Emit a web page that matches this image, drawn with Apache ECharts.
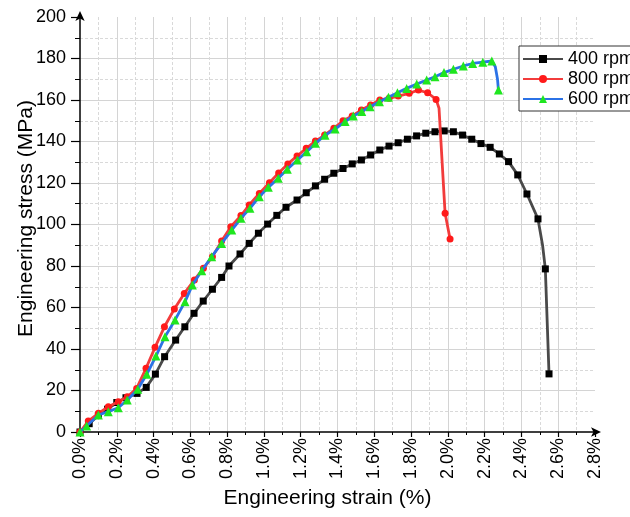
<!DOCTYPE html>
<html>
<head>
<meta charset="utf-8">
<script src="https://cdn.jsdelivr.net/npm/echarts@6/dist/echarts.min.js"></script>
<style>
html,body{margin:0;padding:0;background:#fff;}
#c{width:630px;height:517px;}
</style>
</head>
<body>
<div id="c"></div>
<script>
// Series names
var seriesNames = ['400 rpm', '800 rpm', '600 rpm'];

// 400 rpm: [strain %, stress MPa]; third element 0 = no marker
var rpm400 = [
  [0.0,0],[0.05,4],[0.1,8],[0.15,11],[0.2,14.2],[0.25,16.5],[0.31,18.6],[0.36,21.5],[0.41,27.9],[0.46,36.3],
  [0.52,44.3],[0.57,50.7],[0.62,57.2],[0.67,63.1],[0.72,68.8],[0.77,74.5],[0.81,80],[0.87,85.8],[0.92,90.9],
  [0.97,95.8],[1.02,100.2],[1.07,104.4],[1.12,108.3],[1.18,111.8],[1.23,115.3],[1.28,118.6],[1.33,121.8],
  [1.38,124.7],[1.43,127],[1.48,129.2],[1.53,131.1],[1.58,133.5],[1.63,135.9],[1.68,137.8],[1.73,139.4],
  [1.78,141.1],[1.83,142.7],[1.88,144],[1.93,144.7],[1.98,145.1],[2.03,144.7],[2.08,143.1],[2.13,141.1],
  [2.18,139],[2.23,137.2],[2.28,134],[2.33,130.3],[2.38,123.9],[2.43,114.7],[2.49,102.7],[2.515,90,0],
  [2.53,78.6],[2.55,28]
];

// 800 rpm
var rpm800 = [
  [0,0],[0.045,5.3],[0.1,9],[0.154,12.2],[0.208,14.6],[0.257,17],[0.308,21],[0.359,30.7],[0.408,40.8],
  [0.459,50.7],[0.513,59.3],[0.567,66.8],[0.622,73.3],[0.671,78.9],[0.72,84.5],[0.77,92],[0.82,98.9],
  [0.875,104.3],[0.92,109.4],[0.975,115],[1.03,120.1],[1.08,124.8],[1.13,129.2],[1.18,133],[1.23,136.7],
  [1.28,140.2],[1.33,143.1],[1.38,146.4],[1.43,150],[1.48,152.3],[1.53,155.2],[1.58,157.6],[1.63,160],
  [1.68,160.8],[1.73,161.9],[1.79,163.2],[1.84,164.8],[1.89,163.5],[1.936,160.3],[1.952,156,0],
  [1.985,105.4],[2.012,93]
];

// 600 rpm
var rpm600 = [
  [0,0],[0.036,2.9],[0.1,8.2],[0.154,9.8],[0.208,11.7],[0.257,15.4],[0.314,20.6],[0.363,27.8],[0.413,36.6],
  [0.462,45.9],[0.517,54],[0.571,62.8],[0.611,70.8],[0.662,77.7],[0.716,84.5],[0.77,90.9],[0.825,97.3],
  [0.875,103],[0.924,107.8],[0.975,113.4],[1.024,117.9],[1.078,122.3],[1.127,126.6],[1.182,131.1],
  [1.233,135.1],[1.28,139.1],[1.332,143],[1.387,146],[1.441,149.6],[1.486,152.3],[1.532,154.4],[1.577,156.8],
  [1.628,159.2],[1.677,161.3],[1.726,163.5],[1.776,165.6],[1.831,167.7],[1.885,169.6],[1.93,171.2],
  [1.979,173.2],[2.03,174.8],[2.084,176.4],[2.135,177.6],[2.19,178.2],[2.239,178.8],[2.258,176,0],
  [2.27,170,0],[2.275,164.8]
];

var xTicks = {min: 0, max: 2.8, step: 0.2};
var yTicks = {min: 0, max: 200, step: 20};

function toData(arr) {
  return arr.map(function (p) {
    if (p.length > 2 && p[2] === 0) return {value: [p[0], p[1]], symbol: 'none'};
    return {value: [p[0], p[1]]};
  });
}

var font = 'Arial, "Liberation Sans", sans-serif';
var chart = echarts.init(document.getElementById('c'));

function axisCommon(tickLen, minorLen) {
  return {
    nameMoveOverlap: false,
    axisLine: {show: true, onZero: false, symbol: ['none', 'arrow'], symbolSize: [7, 10], symbolOffset: [0, 6], lineStyle: {color: '#000', width: 1.5}},
    axisTick: {show: true, length: tickLen, lineStyle: {color: '#000', width: 1.2}},
    minorTick: {show: true, splitNumber: 2, length: minorLen, lineStyle: {color: '#000', width: 1}},
    splitLine: {show: true, showMinLine: false, showMaxLine: false, lineStyle: {color: '#d4d4d4', width: 1}},
    minorSplitLine: {show: true, lineStyle: {color: '#d9d9d9', width: 1, type: [3, 2]}}
  };
}

chart.setOption({
  animation: false,
  backgroundColor: '#fff',
  grid: {left: 80, right: 35, top: 17, bottom: 85, containLabel: false, outerBoundsMode: 'none'},
  legend: {
    data: seriesNames,
    orient: 'vertical',
    left: 519, top: 46,
    itemWidth: 40, itemHeight: 10, itemGap: 2,
    padding: [4, 10, 3, 3],
    borderColor: '#333', borderWidth: 1, backgroundColor: '#fff',
    textStyle: {fontFamily: font, fontSize: 18, color: '#000'}
  },
  xAxis: Object.assign({
    type: 'value', min: xTicks.min, max: xTicks.max, interval: xTicks.step,
    name: 'Engineering strain (%)', nameLocation: 'middle', nameGap: 56,
    nameTextStyle: {fontFamily: font, fontSize: 21, color: '#000', padding: [0, 20, 0, 0]},
    axisLabel: {rotate: 90, fontFamily: font, fontSize: 18, color: '#000', margin: 6,
      formatter: function (v) { return v.toFixed(1) + '%'; }}
  }, axisCommon(5, 3)),
  yAxis: Object.assign({
    type: 'value', min: yTicks.min, max: yTicks.max, interval: yTicks.step,
    name: 'Engineering stress (MPa)', nameLocation: 'middle', nameGap: 43,
    nameTextStyle: {fontFamily: font, fontSize: 21, color: '#000', padding: [0, 0, 0, 12]},
    axisLabel: {fontFamily: font, fontSize: 18, color: '#000', margin: 14}
  }, axisCommon(9, 5)),
  series: [
    {name: seriesNames[0], type: 'line', data: toData(rpm400), symbol: 'rect', symbolSize: 7,
      lineStyle: {color: '#4a4a4a', width: 2.8}, itemStyle: {color: '#000'}, z: 2},
    {name: seriesNames[1], type: 'line', data: toData(rpm800), symbol: 'circle', symbolSize: 7,
      lineStyle: {color: '#f23c3c', width: 2.8}, itemStyle: {color: '#ff1a1a'}, z: 3},
    {name: seriesNames[2], type: 'line', data: toData(rpm600), symbol: 'triangle', symbolSize: 9,
      lineStyle: {color: '#2b72e6', width: 2.8}, itemStyle: {color: '#1fe61f'}, z: 4}
  ]
});
</script>
</body>
</html>
